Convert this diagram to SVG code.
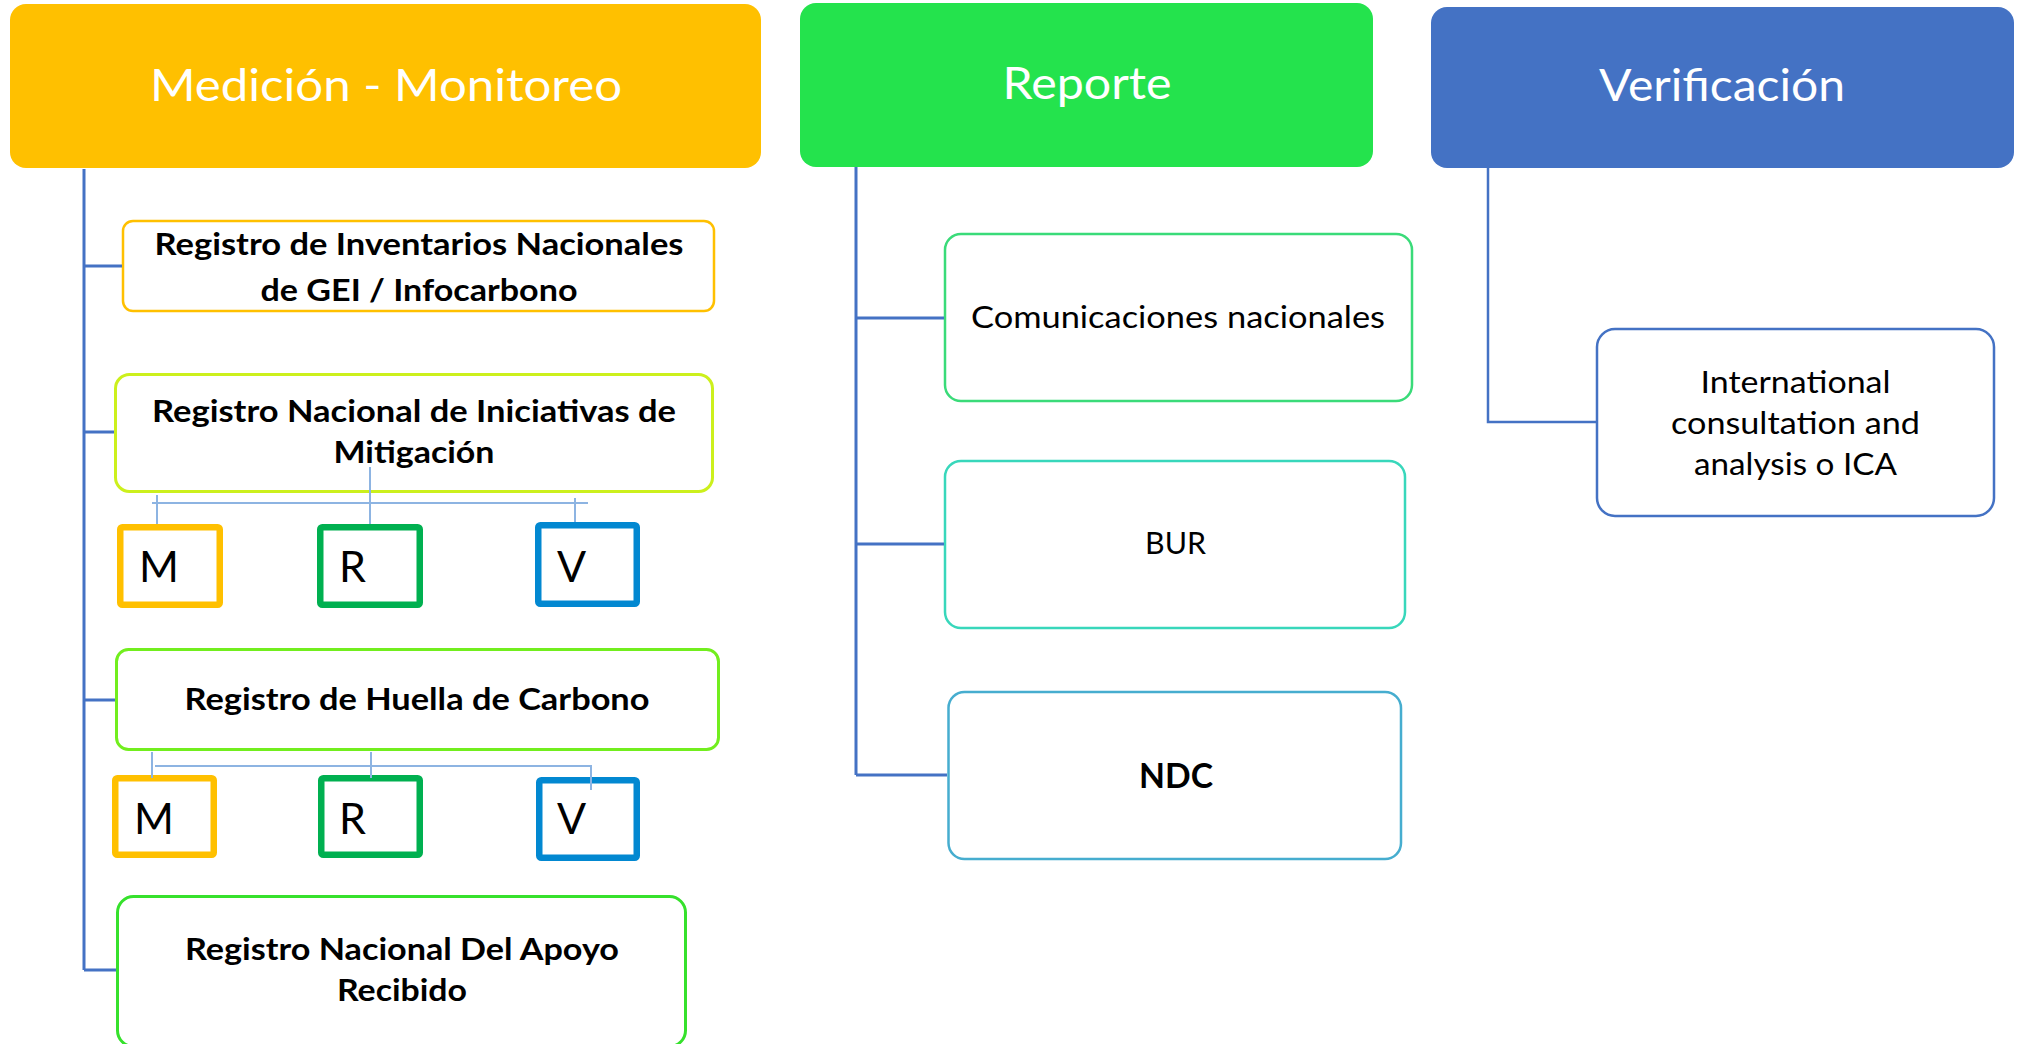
<svg xmlns="http://www.w3.org/2000/svg" width="2023" height="1044" viewBox="0 0 2023 1044">
<style>
text{font-family:Lato,"Open Sans","Liberation Sans",sans-serif;fill:#000;text-anchor:middle}
.hd{font-size:45px;fill:#fff}
.bd{font-size:30px;font-weight:bold}
.rg{font-size:31px}
.ltr{font-size:43px;text-anchor:start}
.box{fill:#fff}
.mrv{fill:#fff;stroke-width:6.5}
.conn{fill:none;stroke:#4472C4;stroke-width:3}
.thin{fill:none;stroke:#8DB4E2;stroke-width:2}
</style>
<rect width="2023" height="1044" fill="#fff"/>
<g id="header-medicion">
<rect x="10" y="4" width="751" height="164" rx="16" fill="#FFC000"/>
<text class="hd" x="386" y="101" textLength="472" lengthAdjust="spacingAndGlyphs">Medición - Monitoreo</text>
</g>
<g id="header-reporte">
<rect x="800" y="3" width="573" height="164" rx="16" fill="#24E34D"/>
<text class="hd" x="1087" y="99" textLength="169" lengthAdjust="spacingAndGlyphs">Reporte</text>
</g>
<g id="header-verificacion">
<rect x="1431" y="7" width="583" height="161" rx="16" fill="#4472C4"/>
<text class="hd" x="1722" y="101" textLength="246" lengthAdjust="spacingAndGlyphs">Verificación</text>
</g>
<g id="reg-inventarios">
<rect class="box" x="123" y="221" width="591" height="90" rx="10" stroke="#FFC000" stroke-width="2.5"/>
<text class="bd" x="419" y="255" textLength="529" lengthAdjust="spacingAndGlyphs">Registro de Inventarios Nacionales</text>
<text class="bd" x="419" y="301" textLength="317" lengthAdjust="spacingAndGlyphs">de GEI / Infocarbono</text>
</g>
<g id="reg-iniciativas">
<rect class="box" x="115.5" y="374.5" width="597" height="117" rx="14" stroke="#CCF01C" stroke-width="3"/>
<text class="bd" x="414" y="422" textLength="524" lengthAdjust="spacingAndGlyphs">Registro Nacional de Iniciativas de</text>
<text class="bd" x="414" y="463" textLength="161" lengthAdjust="spacingAndGlyphs">Mitigación</text>
</g>
<g id="mrv1-m"><rect class="mrv" x="120.25" y="527.25" width="99.5" height="77.5" rx="2" stroke="#FFC000"/><text class="ltr" x="139" y="582">M</text></g>
<g id="mrv1-r"><rect class="mrv" x="320.25" y="527.25" width="99.5" height="77.5" rx="2" stroke="#00B050"/><text class="ltr" x="339" y="582">R</text></g>
<g id="mrv1-v"><rect class="mrv" x="538.25" y="525.25" width="98.5" height="78.5" rx="2" stroke="#0288D1"/><text class="ltr" x="557" y="582">V</text></g>
<g id="reg-huella">
<rect class="box" x="116.5" y="649.5" width="602" height="100" rx="12" stroke="#72EE1E" stroke-width="3"/>
<text class="bd" x="417" y="710" textLength="465" lengthAdjust="spacingAndGlyphs">Registro de Huella de Carbono</text>
</g>
<g id="mrv2-m"><rect class="mrv" x="115.25" y="778.25" width="98.5" height="76.5" rx="2" stroke="#FFC000"/><text class="ltr" x="134" y="834">M</text></g>
<g id="mrv2-r"><rect class="mrv" x="321.25" y="778.25" width="98.5" height="76.5" rx="2" stroke="#00B050"/><text class="ltr" x="339" y="834">R</text></g>
<g id="mrv2-v"><rect class="mrv" x="539.25" y="780.25" width="97.5" height="77.5" rx="2" stroke="#0288D1"/><text class="ltr" x="557" y="834">V</text></g>
<g id="reg-apoyo">
<rect class="box" x="117.5" y="896.5" width="568" height="150" rx="16" stroke="#36E12C" stroke-width="3"/>
<text class="bd" x="402" y="960" textLength="434" lengthAdjust="spacingAndGlyphs">Registro Nacional Del Apoyo</text>
<text class="bd" x="402" y="1001" textLength="130" lengthAdjust="spacingAndGlyphs">Recibido</text>
</g>
<g id="comunicaciones">
<rect class="box" x="945" y="234" width="467" height="167" rx="16" stroke="#3ADB79" stroke-width="2.5"/>
<text class="rg" x="1178" y="328" textLength="414" lengthAdjust="spacingAndGlyphs">Comunicaciones nacionales</text>
</g>
<g id="bur">
<rect class="box" x="945" y="461" width="460" height="167" rx="16" stroke="#38D7BB" stroke-width="2.5"/>
<text class="rg" x="1175.5" y="554" textLength="61" lengthAdjust="spacingAndGlyphs">BUR</text>
</g>
<g id="ndc">
<rect class="box" x="948.5" y="692" width="452.5" height="167" rx="16" stroke="#46ADCF" stroke-width="2.5"/>
<text class="bd" x="1176" y="788" style="font-size:35px" textLength="74" lengthAdjust="spacingAndGlyphs">NDC</text>
</g>
<g id="ica">
<rect class="box" x="1597" y="329" width="397" height="187" rx="18" stroke="#4472C4" stroke-width="2.5"/>
<text class="rg" x="1795.5" y="393" textLength="190" lengthAdjust="spacingAndGlyphs">International</text>
<text class="rg" x="1795.5" y="434" textLength="249" lengthAdjust="spacingAndGlyphs">consultation and</text>
<text class="rg" x="1795.5" y="475" textLength="203" lengthAdjust="spacingAndGlyphs">analysis o ICA</text>
</g>
<g id="connectors">
<path class="conn" d="M84 169V970M84 266H122M84 432H114M84 700H115M84 970H116"/>
<path class="conn" d="M856 167V775M856 318H944M856 544H944M856 775H947"/>
<path class="conn" style="stroke-width:2.5" d="M1488 168V422H1596"/>
<path class="thin" d="M152 503H588M157 495V524M370 467V524M575 498V522"/>
<path class="thin" d="M155 766H591V790M152 752V778M371 752V778"/>
</g>
</svg>
